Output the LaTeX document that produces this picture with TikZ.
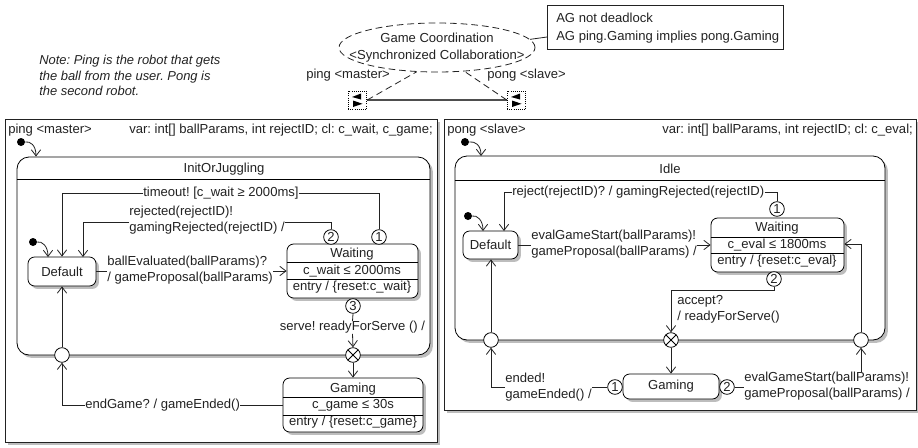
\documentclass[tikz,border=0pt]{standalone}
\usepackage{fontspec}
\setmainfont{Liberation Sans}
\usetikzlibrary{arrows.meta,shapes.geometric,shadows,calc}
\definecolor{ink}{HTML}{222222}
\definecolor{shade}{HTML}{BDBDBD}
\newcommand{\pxu}{0.75pt}
\frenchspacing
\tikzset{
  x=0.75pt,y=-0.75pt,
  txt/.style={font=\fontsize{9.8}{12}\selectfont\frenchspacing,text=ink,inner sep=0pt,align=left},
  lbl/.style={txt,anchor=west},
  ctr/.style={txt,align=center},
  shad/.style={general shadow={shadow xshift=2.2pt,shadow yshift=-2.2pt,fill=shade}},
  outerbox/.style={draw=ink,line width=0.6pt,fill=white,shad,inner sep=0pt},
  compbox/.style={draw=black,line width=0.6pt,fill=white,shad,inner sep=0pt,rounded corners=9pt},
  statebox/.style={draw=black,line width=0.6pt,fill=white,shad,inner sep=0pt,rounded corners=5pt,txt,align=center},
  sepline/.style={draw=black,line width=0.6pt},
  conn/.style={draw=ink,line width=0.6pt,-{Straight Barb[length=4.6pt,width=7pt,line width=0.6pt]}},
  plain/.style={draw=ink,line width=0.6pt},
  initdot/.style={circle,fill=black,minimum size=6pt,inner sep=0pt},
  numc/.style={circle,draw=black,line width=0.6pt,fill=white,minimum size=11pt,inner sep=0pt,txt,align=center},
  junction/.style={circle,draw=black,line width=0.6pt,fill=white,minimum size=11pt,inner sep=0pt},
  xjunction/.style={junction,path picture={
    \draw[line width=0.6pt,black] (path picture bounding box.north west) -- (path picture bounding box.south east)
      (path picture bounding box.north east) -- (path picture bounding box.south west);}},
  portbox/.style={draw=black,densely dotted,line width=0.6pt,fill=white,minimum width=14pt,minimum height=13.5pt,inner sep=0pt},
  dash link/.style={draw=ink,line width=0.6pt,dash pattern=on 5pt off 3pt}
}
\begin{document}
\begin{tikzpicture}
\useasboundingbox (0,0) rectangle (918,447);
% top collaboration
\node[ellipse,dash link,minimum width=196*\pxu,minimum height=49*\pxu,inner sep=0pt] (coord) at (437,47.5) {};
\node[ctr] (coordtxt) at (437,48) {Game Coordination\\[0.8pt]{<Synchronized Collaboration>}};
\node[draw=ink,line width=0.6pt,minimum width=236*\pxu,minimum height=44*\pxu,inner sep=0pt] (ltl) at (665,27) {};
\node[lbl] (ltltxt) at (556,28) {AG not deadlock\\[1.5pt]AG ping.Gaming implies pong.Gaming};
\coordinate (ltlin) at (547,37);
\draw[plain] (coord.5) -- (ltlin);
\node[txt,anchor=west,font=\fontsize{9.7}{11.6}\selectfont\itshape\frenchspacing] (note) at (39,75.5) {Note: Ping is the robot that gets\\the ball from the user. Pong is\\the second robot.};
\node[lbl] (pingrole) at (306,75) {ping <master>};
\node[lbl] (pongrole) at (487,75) {pong <slave>};
\node[portbox] (pA) at (357.5,100) {};
\node[portbox] (pB) at (516.5,100) {};
\foreach \p in {pA,pB}{
  \fill[black] ($(\p.center)+(3.5,-6.5)$) -- ($(\p.center)+(3.5,-0.5)$) -- ($(\p.center)+(-5.5,-3)$) -- cycle;
  \fill[black] ($(\p.center)+(-4.5,0.5)$) -- ($(\p.center)+(-4.5,7)$) -- ($(\p.center)+(5,3.8)$) -- cycle;
}
\draw[draw=ink!80,line width=0.9pt] (pA.east) -- (pB.west);
\draw[dash link] (pA.east) -- (coord.230);
\draw[dash link] (pB.west) -- (coord.319);

% ping
\node[outerbox,minimum width=432*\pxu,minimum height=323*\pxu] (pingbox) at (221,280.5) {};
\node[lbl] (pingname) at (8,130) {ping <master>};
\node[lbl] (pingvar) at (129,130) {var: int[] ballParams, int rejectID; cl: c\_wait, c\_game;};
\node[compbox,minimum width=413*\pxu,minimum height=198*\pxu] (init) at (223.5,256) {};
\draw[sepline] (init.west |- 0,179) coordinate (initsepL) -- (init.east |- 0,179);
\node[ctr] (inittxt) at (224,169) {InitOrJuggling};
\node[initdot] (dotA) at (21,142) {};
\coordinate (dotAend) at (36,156.5);
\draw[conn] (dotA.east) .. controls (30,141) and (36,145) .. (dotAend);

\node[statebox,minimum width=68*\pxu,minimum height=29*\pxu] (defA) at (62,271.5) {Default};
\node[statebox,minimum width=131*\pxu,minimum height=54*\pxu] (waitA) at (352.5,271) {};
\draw[sepline] (waitA.west |- 0,262) -- (waitA.east |- 0,262);
\draw[sepline] (waitA.west |- 0,279) -- (waitA.east |- 0,279);
\node[ctr] (waitA1) at (352,254.5) {Waiting};
\node[ctr] (waitA2) at (352,271) {c\_wait ≤ 2000ms};
\node[ctr] (waitA3) at (352,287) {entry / \{reset:c\_wait\}};
\node[statebox,minimum width=140*\pxu,minimum height=54*\pxu] (gameA) at (353,405) {};
\draw[sepline] (gameA.west |- 0,397) -- (gameA.east |- 0,397);
\draw[sepline] (gameA.west |- 0,415) -- (gameA.east |- 0,415);
\node[ctr] (gameA1) at (353,389) {Gaming};
\node[ctr] (gameA2) at (353,405.5) {c\_game ≤ 30s};
\node[ctr] (gameA3) at (353,422) {entry / \{reset:c\_game\}};

\node[initdot] (dotB) at (33,242) {};
\coordinate (dotBend) at (48,257);
\draw[conn] (dotB.east) .. controls (42,241) and (48,246) .. (dotBend);

\node[numc] (a1) at (379,237) {1};
\node[numc] (a2) at (331,237) {2};
\node[numc] (a3) at (353,306) {3};
\node[xjunction] (xA) at (353,355) {};
\node[junction] (jA) at (62,355) {};

\node[lbl] (lTimeout) at (143,193) {timeout! [c\_wait ≥ 2000ms]};
\draw[conn] (lTimeout.west) -| (defA.north);
\draw[plain] (lTimeout.east) -| (a1.north);
\node[lbl] (lRej) at (129,220) {rejected(rejectID)!\\gamingRejected(rejectID) /};
\coordinate (defArej) at (83,257);
\draw[conn] (lRej.west |- 0,222) -| (defArej);
\draw[plain] (lRej.east |- 0,222) -| (a2.north);
\node[lbl] (lBall) at (107,270) {ballEvaluated(ballParams)?\\/ gameProposal(ballParams)};
\draw[plain] (defA.east) -- (lBall.west |- defA.east);
\draw[conn] (lBall.east |- waitA.west) -- (waitA.west);
\node[ctr] (lServe) at (352.5,327.5) {serve! readyForServe () /};
\draw[plain] (a3.south) -- (lServe.north);
\draw[conn] (lServe.south) -- (xA.north);
\draw[conn] (xA.south) -- (gameA.north);
\draw[conn] (jA.north) -- (defA.south);
\node[lbl] (lEnd) at (85,405) {endGame? / gameEnded()};
\draw[conn] (lEnd.west) -| (jA.south);
\draw[plain] (lEnd.east) -- (gameA.west);

% pong
\node[outerbox,minimum width=472*\pxu,minimum height=291*\pxu] (pongbox) at (680,264.5) {};
\node[lbl] (pongname) at (447,130) {pong <slave>};
\node[lbl] (pongvar) at (662,130) {var: int[] ballParams, int rejectID; cl: c\_eval;};
\node[compbox,minimum width=430*\pxu,minimum height=184*\pxu] (idle) at (670,248) {};
\draw[sepline] (idle.west |- 0,180) -- (idle.east |- 0,180);
\node[ctr] (idletxt) at (670,168.5) {Idle};
\node[initdot] (dotC) at (465,142) {};
\coordinate (dotCend) at (481,156);
\draw[conn] (dotC.east) .. controls (475,141) and (481,145) .. (dotCend);

\node[statebox,minimum width=55*\pxu,minimum height=28*\pxu] (defB) at (490.5,245) {Default};
\node[statebox,minimum width=133*\pxu,minimum height=54*\pxu] (waitB) at (777.5,245) {};
\draw[sepline] (waitB.west |- 0,237) -- (waitB.east |- 0,237);
\draw[sepline] (waitB.west |- 0,253) -- (waitB.east |- 0,253);
\node[ctr] (waitB1) at (777,228.5) {Waiting};
\node[ctr] (waitB2) at (777,245) {c\_eval ≤ 1800ms};
\node[ctr] (waitB3) at (777,261) {entry / \{reset:c\_eval\}};
\node[statebox,minimum width=96*\pxu,minimum height=25*\pxu] (gameB) at (671,386.5) {Gaming};

\node[initdot] (dotD) at (468,216) {};
\coordinate (dotDend) at (483,231);
\draw[conn] (dotD.east) .. controls (477,215) and (483,220) .. (dotDend);

\node[numc] (b1) at (777,209) {1};
\node[numc] (b2) at (774,279) {2};
\node[numc] (g1) at (615,387) {1};
\node[numc] (g2) at (727,387) {2};
\node[xjunction] (xB) at (671,340) {};
\node[junction] (jB) at (491,340) {};
\node[junction] (jC) at (861,340) {};

\node[lbl] (lReject) at (512,192.5) {reject(rejectID)? / gamingRejected(rejectID)};
\coordinate (defBrej) at (504,231);
\draw[conn] (lReject.west) -| (defBrej);
\draw[plain] (lReject.east) -| (b1.north);
\node[lbl] (lEval) at (531,244) {evalGameStart(ballParams)!\\gameProposal(ballParams) /};
\draw[plain] (defB.east) -- (lEval.west |- defB.east);
\draw[conn] (lEval.east |- waitB.west) -- (waitB.west);
\node[lbl] (lAccept) at (677,309) {accept?\\/ readyForServe()};
\coordinate (bendB) at (671,290);
\draw[plain] (b2.south) |- (bendB);
\draw[conn] (bendB) -- (xB.north);
\draw[conn] (xB.south) -- (gameB.north);
\draw[conn] (jB.north) -- (jB.north |- defB.south);
\node[lbl] (lEnded) at (505,387) {ended!\\gameEnded() /};
\draw[conn] (lEnded.west) -| (jB.south);
\draw[plain] (lEnded.east) -- (g1.west);
\node[lbl] (lEval2) at (744,386) {evalGameStart(ballParams)!\\gameProposal(ballParams) /};
\draw[plain] (g2.east) -- (lEval2.west |- g2.east);
\draw[conn] (jC.south |- lEval2.north) -- (jC.south);
\coordinate (bendC) at (861,244);
\draw[plain] (jC.north) -- (bendC);
\draw[conn] (bendC) -- (waitB.east |- bendC);
\end{tikzpicture}
\end{document}
